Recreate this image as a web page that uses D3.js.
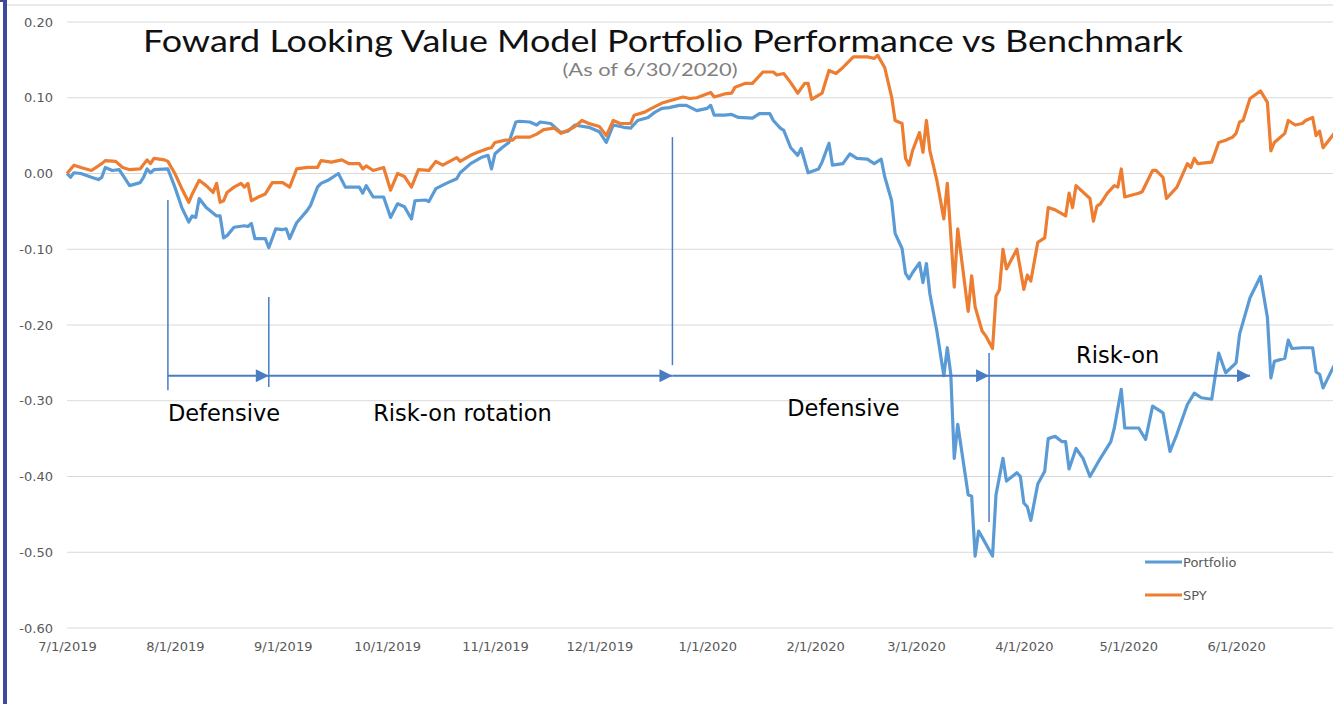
<!DOCTYPE html>
<html>
<head>
<meta charset="utf-8">
<script src="https://cdn.jsdelivr.net/npm/d3@7"></script>
<style>
  body { margin: 0; background: #fff; }
  svg { display: block; }
  .tick text { fill: #595959; font-family: "DejaVu Sans", sans-serif; font-size: 13px; }
</style>
</head>
<body>
<svg id="chart" width="1333" height="704"></svg>
<script>
// --- data ---
const titleText = "Foward Looking Value Model Portfolio Performance vs Benchmark";
const subtitleText = "(As of 6/30/2020)";
const seriesNames = ["Portfolio", "SPY"];
const yTicks = [0.2, 0.1, 0.0, -0.1, -0.2, -0.3, -0.4, -0.5, -0.6];
const xTicks = ["2019-07-01","2019-08-01","2019-09-01","2019-10-01","2019-11-01","2019-12-01",
                "2020-01-01","2020-02-01","2020-03-01","2020-04-01","2020-05-01","2020-06-01"];

const portfolio = [
  ["2019-07-01",0.000],["2019-07-02",-0.005],["2019-07-03",0.001],["2019-07-05",0.000],["2019-07-08",-0.005],
  ["2019-07-10",-0.008],["2019-07-11",-0.005],["2019-07-12",0.008],["2019-07-14",0.004],["2019-07-16",0.005],
  ["2019-07-19",-0.016],["2019-07-22",-0.012],["2019-07-23",-0.005],["2019-07-24",0.006],["2019-07-25",0.001],
  ["2019-07-26",0.005],["2019-07-30",0.006],["2019-08-01",-0.018],["2019-08-03",-0.045],["2019-08-05",-0.064],
  ["2019-08-06",-0.056],["2019-08-07",-0.058],["2019-08-08",-0.033],["2019-08-10",-0.045],["2019-08-13",-0.056],
  ["2019-08-14",-0.056],["2019-08-15",-0.085],["2019-08-16",-0.082],["2019-08-18",-0.071],["2019-08-21",-0.069],
  ["2019-08-22",-0.070],["2019-08-23",-0.066],["2019-08-24",-0.086],["2019-08-27",-0.086],["2019-08-28",-0.098],
  ["2019-08-30",-0.073],["2019-09-01",-0.074],["2019-09-02",-0.073],["2019-09-03",-0.086],["2019-09-05",-0.065],
  ["2019-09-08",-0.049],["2019-09-09",-0.042],["2019-09-11",-0.018],["2019-09-12",-0.013],["2019-09-14",-0.009],
  ["2019-09-17",0.000],["2019-09-19",-0.018],["2019-09-22",-0.018],["2019-09-23",-0.018],["2019-09-24",-0.026],
  ["2019-09-25",-0.016],["2019-09-27",-0.031],["2019-09-30",-0.031],["2019-10-02",-0.058],["2019-10-04",-0.040],
  ["2019-10-06",-0.044],["2019-10-08",-0.060],["2019-10-09",-0.036],["2019-10-12",-0.035],["2019-10-13",-0.037],
  ["2019-10-15",-0.020],["2019-10-18",-0.013],["2019-10-21",-0.007],["2019-10-22",0.001],["2019-10-25",0.013],
  ["2019-10-28",0.021],["2019-10-30",0.024],["2019-10-31",0.006],["2019-11-01",0.026],["2019-11-03",0.034],
  ["2019-11-05",0.041],["2019-11-07",0.068],["2019-11-08",0.069],["2019-11-11",0.068],["2019-11-13",0.064],
  ["2019-11-14",0.068],["2019-11-17",0.066],["2019-11-20",0.054],["2019-11-22",0.056],["2019-11-24",0.064],
  ["2019-11-25",0.063],["2019-11-28",0.061],["2019-12-01",0.055],["2019-12-03",0.041],["2019-12-05",0.064],
  ["2019-12-08",0.061],["2019-12-10",0.060],["2019-12-12",0.070],["2019-12-15",0.074],["2019-12-17",0.081],
  ["2019-12-19",0.086],["2019-12-21",0.087],["2019-12-24",0.090],["2019-12-26",0.090],["2019-12-29",0.083],
  ["2020-01-01",0.086],["2020-01-02",0.090],["2020-01-03",0.077],["2020-01-06",0.077],["2020-01-08",0.078],
  ["2020-01-10",0.074],["2020-01-14",0.073],["2020-01-16",0.079],["2020-01-19",0.079],["2020-01-20",0.070],
  ["2020-01-22",0.060],["2020-01-23",0.057],["2020-01-25",0.034],["2020-01-27",0.024],["2020-01-28",0.033],
  ["2020-01-30",0.001],["2020-02-02",0.006],["2020-02-03",0.015],["2020-02-05",0.040],["2020-02-06",0.011],
  ["2020-02-09",0.013],["2020-02-11",0.026],["2020-02-13",0.020],["2020-02-16",0.019],["2020-02-18",0.013],
  ["2020-02-20",0.019],["2020-02-21",-0.004],["2020-02-23",-0.036],["2020-02-24",-0.079],["2020-02-26",-0.099],
  ["2020-02-27",-0.132],["2020-02-28",-0.139],["2020-02-29",-0.131],["2020-03-02",-0.118],["2020-03-03",-0.144],
  ["2020-03-04",-0.119],["2020-03-05",-0.159],["2020-03-07",-0.208],["2020-03-09",-0.267],["2020-03-10",-0.230],
  ["2020-03-11",-0.265],["2020-03-12",-0.376],["2020-03-13",-0.331],["2020-03-16",-0.424],["2020-03-17",-0.426],
  ["2020-03-18",-0.505],["2020-03-19",-0.472],["2020-03-20",-0.480],["2020-03-23",-0.505],["2020-03-24",-0.424],
  ["2020-03-26",-0.376],["2020-03-27",-0.406],["2020-03-30",-0.395],["2020-03-31",-0.400],["2020-04-01",-0.435],
  ["2020-04-02",-0.440],["2020-04-03",-0.458],["2020-04-05",-0.410],["2020-04-07",-0.393],["2020-04-08",-0.350],
  ["2020-04-10",-0.347],["2020-04-12",-0.354],["2020-04-13",-0.354],["2020-04-14",-0.390],["2020-04-16",-0.363],
  ["2020-04-18",-0.376],["2020-04-20",-0.400],["2020-04-23",-0.376],["2020-04-26",-0.354],["2020-04-27",-0.336],
  ["2020-04-29",-0.285],["2020-04-30",-0.336],["2020-05-04",-0.336],["2020-05-06",-0.351],["2020-05-08",-0.307],
  ["2020-05-11",-0.316],["2020-05-13",-0.367],["2020-05-15",-0.344],["2020-05-18",-0.305],["2020-05-20",-0.290],
  ["2020-05-22",-0.296],["2020-05-25",-0.298],["2020-05-27",-0.237],["2020-05-29",-0.263],["2020-06-01",-0.250],
  ["2020-06-02",-0.212],["2020-06-05",-0.164],["2020-06-08",-0.136],["2020-06-10",-0.190],["2020-06-11",-0.270],
  ["2020-06-12",-0.248],["2020-06-15",-0.244],["2020-06-16",-0.220],["2020-06-17",-0.231],["2020-06-20",-0.230],
  ["2020-06-23",-0.230],["2020-06-24",-0.262],["2020-06-25",-0.265],["2020-06-26",-0.283],["2020-06-29",-0.255],
  ["2020-06-30",-0.250]
];

const spy = [
  ["2019-07-01",0.000],["2019-07-03",0.011],["2019-07-05",0.008],["2019-07-08",0.004],["2019-07-11",0.013],
  ["2019-07-12",0.017],["2019-07-15",0.016],["2019-07-17",0.008],["2019-07-19",0.005],["2019-07-22",0.006],
  ["2019-07-24",0.018],["2019-07-25",0.013],["2019-07-26",0.020],["2019-07-29",0.018],["2019-07-30",0.016],
  ["2019-08-01",0.000],["2019-08-03",-0.020],["2019-08-05",-0.038],["2019-08-06",-0.027],["2019-08-08",-0.009],
  ["2019-08-10",-0.016],["2019-08-12",-0.025],["2019-08-13",-0.013],["2019-08-14",-0.038],["2019-08-15",-0.036],
  ["2019-08-16",-0.025],["2019-08-18",-0.018],["2019-08-20",-0.013],["2019-08-21",-0.018],["2019-08-22",-0.013],
  ["2019-08-23",-0.036],["2019-08-25",-0.031],["2019-08-27",-0.027],["2019-08-29",-0.012],["2019-09-01",-0.012],
  ["2019-09-03",-0.018],["2019-09-05",0.006],["2019-09-08",0.008],["2019-09-11",0.008],["2019-09-12",0.017],
  ["2019-09-15",0.015],["2019-09-18",0.018],["2019-09-20",0.013],["2019-09-23",0.013],["2019-09-24",0.006],
  ["2019-09-25",0.010],["2019-09-27",0.004],["2019-09-30",0.008],["2019-10-02",-0.022],["2019-10-04",0.000],
  ["2019-10-06",-0.004],["2019-10-08",-0.018],["2019-10-10",0.005],["2019-10-13",0.004],["2019-10-15",0.016],
  ["2019-10-17",0.011],["2019-10-19",0.016],["2019-10-21",0.021],["2019-10-22",0.016],["2019-10-25",0.024],
  ["2019-10-27",0.028],["2019-10-30",0.033],["2019-10-31",0.034],["2019-11-01",0.041],["2019-11-04",0.044],
  ["2019-11-06",0.044],["2019-11-07",0.048],["2019-11-11",0.048],["2019-11-13",0.052],["2019-11-15",0.058],
  ["2019-11-18",0.060],["2019-11-20",0.053],["2019-11-22",0.057],["2019-11-24",0.062],["2019-11-26",0.070],
  ["2019-11-28",0.066],["2019-12-01",0.062],["2019-12-03",0.050],["2019-12-05",0.070],["2019-12-07",0.066],
  ["2019-12-10",0.066],["2019-12-11",0.077],["2019-12-14",0.081],["2019-12-16",0.086],["2019-12-19",0.093],
  ["2019-12-22",0.097],["2019-12-25",0.101],["2019-12-27",0.099],["2019-12-29",0.100],["2020-01-02",0.107],
  ["2020-01-03",0.101],["2020-01-06",0.105],["2020-01-08",0.106],["2020-01-09",0.114],["2020-01-12",0.119],
  ["2020-01-14",0.119],["2020-01-17",0.134],["2020-01-20",0.134],["2020-01-21",0.130],["2020-01-23",0.132],
  ["2020-01-25",0.120],["2020-01-27",0.106],["2020-01-29",0.119],["2020-01-30",0.119],["2020-01-31",0.098],
  ["2020-02-03",0.106],["2020-02-05",0.136],["2020-02-07",0.132],["2020-02-09",0.140],["2020-02-12",0.154],
  ["2020-02-16",0.154],["2020-02-18",0.152],["2020-02-19",0.156],["2020-02-21",0.140],["2020-02-23",0.101],
  ["2020-02-24",0.070],["2020-02-26",0.066],["2020-02-27",0.020],["2020-02-28",0.011],["2020-02-29",0.030],
  ["2020-03-02",0.054],["2020-03-03",0.028],["2020-03-04",0.070],["2020-03-05",0.030],["2020-03-07",-0.009],
  ["2020-03-09",-0.060],["2020-03-10",-0.013],["2020-03-12",-0.150],["2020-03-13",-0.073],["2020-03-16",-0.182],
  ["2020-03-17",-0.135],["2020-03-18",-0.176],["2020-03-20",-0.208],["2020-03-21",-0.214],["2020-03-23",-0.231],
  ["2020-03-24",-0.162],["2020-03-25",-0.153],["2020-03-26",-0.100],["2020-03-27",-0.126],["2020-03-30",-0.100],
  ["2020-04-01",-0.153],["2020-04-02",-0.134],["2020-04-03",-0.142],["2020-04-05",-0.091],["2020-04-07",-0.085],
  ["2020-04-08",-0.045],["2020-04-10",-0.048],["2020-04-13",-0.056],["2020-04-14",-0.026],["2020-04-15",-0.045],
  ["2020-04-16",-0.016],["2020-04-20",-0.033],["2020-04-21",-0.063],["2020-04-22",-0.043],["2020-04-23",-0.040],
  ["2020-04-25",-0.026],["2020-04-27",-0.016],["2020-04-28",-0.018],["2020-04-29",0.006],["2020-04-30",-0.031],
  ["2020-05-04",-0.026],["2020-05-05",-0.024],["2020-05-08",0.004],["2020-05-09",0.004],["2020-05-11",-0.005],
  ["2020-05-12",-0.033],["2020-05-15",-0.018],["2020-05-18",0.013],["2020-05-19",0.008],["2020-05-20",0.020],
  ["2020-05-21",0.013],["2020-05-25",0.015],["2020-05-27",0.041],["2020-05-29",0.044],["2020-05-31",0.048],
  ["2020-06-01",0.053],["2020-06-02",0.068],["2020-06-03",0.070],["2020-06-05",0.099],["2020-06-08",0.109],
  ["2020-06-10",0.094],["2020-06-11",0.030],["2020-06-12",0.041],["2020-06-15",0.053],["2020-06-16",0.070],
  ["2020-06-18",0.064],["2020-06-20",0.066],["2020-06-21",0.070],["2020-06-23",0.074],["2020-06-24",0.050],
  ["2020-06-25",0.056],["2020-06-26",0.034],["2020-06-28",0.046],["2020-06-30",0.058]
];

// annotation: vertical markers [date, top value, bottom value]
const markers = [
  ["2019-07-30", -0.035, -0.286],
  ["2019-08-28", -0.163, -0.282],
  ["2019-12-22", 0.048, -0.253],
  ["2020-03-22", -0.237, -0.460]
];
// annotation arrows [from, to] on one level
const arrowLevel = -0.267;
const arrows = [
  ["2019-07-30", "2019-08-28"],
  ["2019-08-28", "2019-12-22"],
  ["2019-12-22", "2020-03-22"],
  ["2020-03-22", "2020-06-05"]
];
const phaseLabels = [
  ["Defensive", "2019-07-30", -0.327],
  ["Risk-on rotation", "2019-09-27", -0.327],
  ["Defensive", "2020-01-24", -0.320],
  ["Risk-on", "2020-04-16", -0.250]
];

const colors = { Portfolio: "#5b9bd5", SPY: "#ed7d31" };
const annoColor = "#4a7cc4";

// --- drawing ---
const parse = d3.timeParse("%Y-%m-%d");
const fmt = d3.timeFormat("%-m/%-d/%Y");
const svg = d3.select("#chart");

const x = d3.scaleTime()
  .domain([parse("2019-07-01"), parse("2020-06-30")])
  .range([67, 1337]);
const y = d3.scaleLinear().domain([-0.6, 0.2]).range([628, 22]);

// frame bits
svg.append("line").attr("x1", 7).attr("x2", 1333).attr("y1", 5).attr("y2", 5)
  .attr("stroke", "#e3e3e3").attr("stroke-width", 1.5);
svg.append("rect").attr("x", 3).attr("y", 0).attr("width", 4).attr("height", 704).attr("fill", "#3d4a9c");
svg.append("rect").attr("x", 0).attr("y", 0).attr("width", 7).attr("height", 2).attr("fill", "#3d4a9c");

// gridlines
svg.append("g").selectAll("line").data(yTicks).enter().append("line")
  .attr("x1", 67).attr("x2", 1333)
  .attr("y1", d => y(d)).attr("y2", d => y(d))
  .attr("stroke", "#d9d9d9").attr("stroke-width", 1.2);

// y axis labels (plain hyphen for negatives, like the original)
const yAxis = d3.axisLeft(y).tickValues(yTicks).tickFormat(d => d.toFixed(2)).tickSize(0).tickPadding(0);
svg.append("g").attr("transform", "translate(53,0)").call(yAxis)
  .call(g => g.select(".domain").remove())
  .selectAll("text").attr("font-size", 12.5);

// x axis labels
const xAxis = d3.axisBottom(x).tickValues(xTicks.map(parse)).tickFormat(fmt).tickSize(0).tickPadding(0);
svg.append("g").attr("transform", "translate(0,642)").call(xAxis)
  .call(g => g.select(".domain").remove())
  .selectAll("text").attr("font-size", 13);

// title
svg.append("text").attr("x", 663).attr("y", 52).attr("text-anchor", "middle")
  .attr("font-family", "Lato, 'Open Sans', sans-serif").attr("font-size", 31).attr("fill", "#111")
  .attr("textLength", 1040).attr("lengthAdjust", "spacingAndGlyphs").text(titleText);
svg.append("text").attr("x", 650).attr("y", 76).attr("text-anchor", "middle")
  .attr("font-family", "Lato, 'Open Sans', sans-serif").attr("font-size", 18).attr("fill", "#7f7f7f")
  .attr("textLength", 175).attr("lengthAdjust", "spacingAndGlyphs").text(subtitleText);

// series
const line = d3.line().x(d => x(parse(d[0]))).y(d => y(d[1]));
svg.append("clipPath").attr("id", "plot").append("rect")
  .attr("x", 60).attr("y", 0).attr("width", 1273).attr("height", 704);
const plot = svg.append("g").attr("clip-path", "url(#plot)");
plot.append("path").datum(portfolio).attr("d", line)
  .attr("fill", "none").attr("stroke", colors.Portfolio).attr("stroke-width", 3.2).attr("stroke-linejoin", "round");
plot.append("path").datum(spy).attr("d", line)
  .attr("fill", "none").attr("stroke", colors.SPY).attr("stroke-width", 3.2).attr("stroke-linejoin", "round");

// annotations
svg.append("defs").append("marker").attr("id", "head")
  .attr("viewBox", "0 0 10 10").attr("refX", 10).attr("refY", 5)
  .attr("markerWidth", 7).attr("markerHeight", 6.5).attr("markerUnits", "strokeWidth")
  .attr("orient", "auto")
  .append("path").attr("d", "M0,0 L10,5 L0,10 Z").attr("fill", annoColor);

const anno = svg.append("g");
anno.selectAll(".marker").data(markers).enter().append("line")
  .attr("x1", d => x(parse(d[0]))).attr("x2", d => x(parse(d[0])))
  .attr("y1", d => y(d[1])).attr("y2", d => y(d[2]))
  .attr("stroke", annoColor).attr("stroke-width", 1.5);
anno.selectAll(".arrow").data(arrows).enter().append("line")
  .attr("x1", d => x(parse(d[0]))).attr("x2", d => x(parse(d[1])))
  .attr("y1", y(arrowLevel)).attr("y2", y(arrowLevel))
  .attr("stroke", annoColor).attr("stroke-width", 2)
  .attr("marker-end", "url(#head)");
anno.selectAll(".phase").data(phaseLabels).enter().append("text")
  .attr("x", d => x(parse(d[1]))).attr("y", d => y(d[2]))
  .attr("font-family", "'DejaVu Sans', sans-serif").attr("font-size", 22.5).attr("fill", "#000")
  .text(d => d[0]);

// legend
const legend = svg.append("g").selectAll("g").data(seriesNames).enter().append("g")
  .attr("transform", (d, i) => `translate(1145,${562 + i * 33})`);
legend.append("line").attr("x1", 0).attr("x2", 37)
  .attr("stroke", d => colors[d]).attr("stroke-width", 3);
legend.append("text").attr("x", 38).attr("dy", "0.35em")
  .attr("font-family", "'DejaVu Sans', sans-serif").attr("font-size", 13).attr("fill", "#595959")
  .text(d => d);
</script>
</body>
</html>
